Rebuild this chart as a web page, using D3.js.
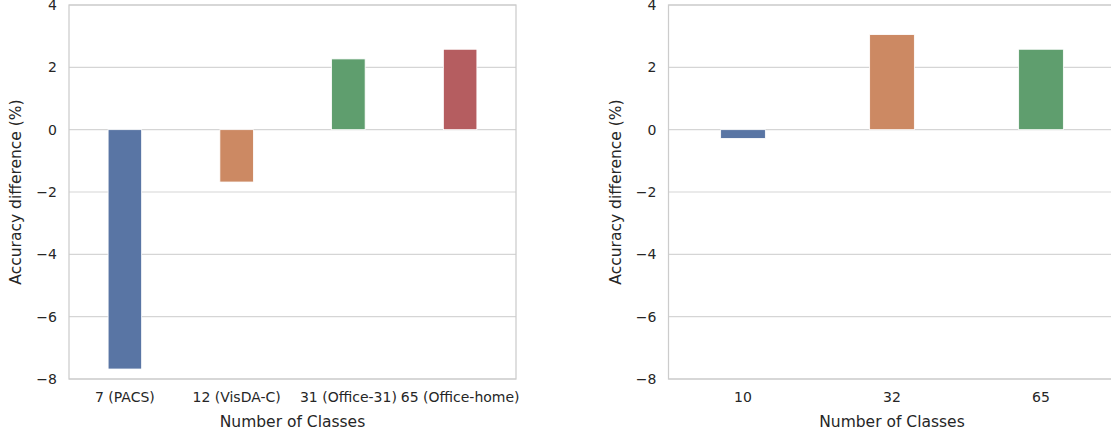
<!DOCTYPE html>
<html><head><meta charset="utf-8">
<script src="https://cdn.jsdelivr.net/npm/d3@7"></script>
<style>
html,body{margin:0;padding:0;background:#fff;}
svg{display:block;font-family:"DejaVu Sans",sans-serif;}
</style></head>
<body>
<svg id="chart" width="1111" height="436"></svg>
<script>
const leftCategories = ["7 (PACS)", "12 (VisDA-C)", "31 (Office-31)", "65 (Office-home)"];
const leftValues = [-7.68, -1.68, 2.27, 2.58];
const rightCategories = ["10", "32", "65"];
const rightValues = [-0.28, 3.05, 2.58];
const yTicks = [-8, -6, -4, -2, 0, 2, 4];
const barColors = ["#5975a4", "#cc8963", "#5f9e6e", "#b55d60"];
const yLabel = "Accuracy difference (%)";
const xLabel = "Number of Classes";

const svg = d3.select("#chart");

function panel(x0, categories, values) {
  const w = 447, top = 5, bottom = 379;
  const g = svg.append("g");
  const x = d3.scaleBand().domain(categories).range([x0, x0 + w]).paddingInner(0).paddingOuter(0);
  const y = d3.scaleLinear().domain([-8, 4]).range([bottom, top]);

  // grid lines
  g.selectAll("line.grid").data(yTicks).join("line")
    .attr("x1", x0).attr("x2", x0 + w)
    .attr("y1", d => y(d)).attr("y2", d => y(d))
    .attr("stroke", "#d5d5d5").attr("stroke-width", 1.1);

  // bars
  const bw = x.bandwidth() * 0.3;
  g.selectAll("rect.bar").data(values).join("rect")
    .attr("x", (d, i) => x(categories[i]) + x.bandwidth() / 2 - bw / 2)
    .attr("width", bw)
    .attr("y", d => y(Math.max(0, d)))
    .attr("height", d => Math.abs(y(d) - y(0)))
    .attr("fill", (d, i) => barColors[i])
    .attr("stroke", "#ffffff").attr("stroke-width", 0.8);

  // spines
  g.append("rect").attr("x", x0).attr("y", top).attr("width", w).attr("height", bottom - top)
    .attr("fill", "none").attr("stroke", "#cccccc").attr("stroke-width", 1.25);

  // y axis ticks
  const ya = d3.axisLeft(y).tickValues(yTicks).tickSize(0).tickPadding(12)
    .tickFormat(d => d < 0 ? "\u2212" + Math.abs(d) : String(d));
  const yg = g.append("g").attr("transform", `translate(${x0},0)`).call(ya);
  yg.select(".domain").remove();
  yg.selectAll("text").attr("fill", "#262626").style("font-size", "14px").style("font-family", "DejaVu Sans");

  // x axis ticks
  const xa = d3.axisBottom(x).tickSize(0).tickPadding(13);
  const xg = g.append("g").attr("transform", `translate(0,${bottom})`).call(xa);
  xg.select(".domain").remove();
  xg.selectAll("text").attr("fill", "#262626").style("font-size", "14px").style("font-family", "DejaVu Sans");

  // labels
  g.append("text").attr("x", x0 + w / 2).attr("y", 427).attr("text-anchor", "middle")
    .attr("fill", "#262626").style("font-size", "15.5px").text(xLabel);
  g.append("text").attr("transform", `translate(${x0 - 48},${(top + bottom) / 2}) rotate(-90)`)
    .attr("text-anchor", "middle").attr("fill", "#262626").style("font-size", "15.5px").text(yLabel);
}

panel(69, leftCategories, leftValues);
panel(668.5, rightCategories, rightValues);
</script>
</body></html>
